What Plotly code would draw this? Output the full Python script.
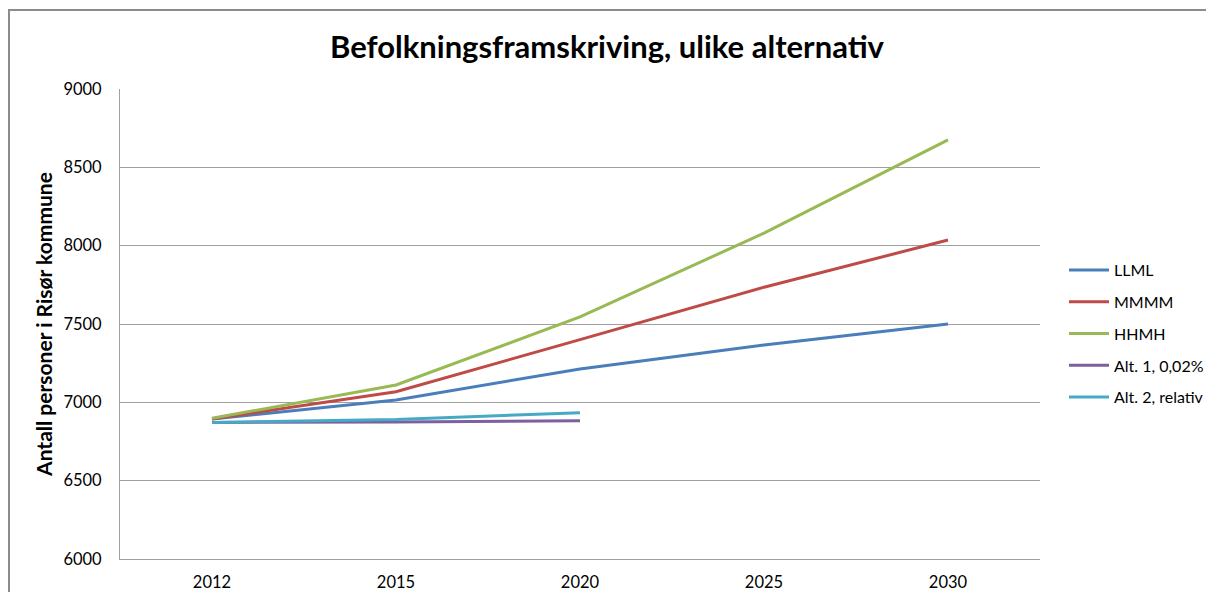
import plotly.graph_objects as go

years = ["2012", "2015", "2020", "2025", "2030"]
llml = [6893, 7015, 7213, 7366, 7500]
mmmm = [6893, 7068, 7400, 7735, 8036]
hhmh = [6898, 7111, 7545, 8080, 8675]
alt1_years = ["2012", "2015", "2020"]
alt1 = [6872, 6874, 6883]
alt2 = [6872, 6890, 6934]

names = ["LLML", "MMMM", "HHMH", "Alt. 1, 0,02%", "Alt. 2, relativ"]
colors = ["#4A7EBB", "#BE4B48", "#98B954", "#7D60A0", "#46AAC5"]

fig = go.Figure()
series = [(years, llml), (years, mmmm), (years, hhmh), (alt1_years, alt1), (alt1_years, alt2)]
for i, ((xs, ys), n, c) in enumerate(zip(series, names, colors)):
    fig.add_trace(go.Scatter(x=xs, y=ys, name=n, mode="lines", legendgroup=f"g{i}",
                             line=dict(color=c, width=3)))

OFF = 8  # page body margin
W, H = 1214 - 2 * OFF, 600 - 2 * OFF
L, T = 120 - OFF, 89 - OFF
R = W - (1040 - OFF)
B = H - (559 - OFF)
pw, ph = W - L - R, H - T - B

fig.update_layout(
    width=W, height=H,
    margin=dict(l=L, r=R, t=T, b=B, autoexpand=False),
    paper_bgcolor="white", plot_bgcolor="white",
    font=dict(family="Lato, Open Sans, sans-serif", size=16, color="#000000"),
    title=dict(text="<b>Befolkningsframskriving, ulike alternativ</b>",
               x=0.5, xanchor="center", y=1 - (47 - OFF) / H, yanchor="middle",
               font=dict(size=31, color="#000")),
    showlegend=True,
    legend=dict(x=(1064 - 120) / pw, xanchor="left", y=1 - (253 - 89) / ph, yanchor="top",
                font=dict(size=16), tracegroupgap=8, itemwidth=40,
                bgcolor="rgba(0,0,0,0)"),
    xaxis=dict(type="category", categoryorder="array", categoryarray=years,
               range=[-0.5, 4.5], showgrid=False, zeroline=False,
               showline=True, linecolor="#A0A0A0", linewidth=1, mirror=False,
               ticks="", tickfont=dict(size=16.5), ticklabelstandoff=8),
    yaxis=dict(range=[6000, 9000], dtick=500, showgrid=True, gridcolor="#A0A0A0",
               gridwidth=1, zeroline=False, showline=True, linecolor="#A0A0A0",
               linewidth=1, ticks="", tickfont=dict(size=16.5), ticklabelstandoff=14,
               title=dict(text="<b>Antall personer i Risør kommune</b>",
                          font=dict(size=21), standoff=5)),
)

# chart outer border
fig.add_shape(type="rect", xref="paper", yref="paper",
              x0=(9 - 120) / pw, x1=(1240 - 120) / pw,
              y0=-0.3, y1=1 + (89 - 10) / ph,
              line=dict(color="#8C8C8C", width=2), fillcolor="rgba(0,0,0,0)", layer="below")

fig.write_html("out.html")
